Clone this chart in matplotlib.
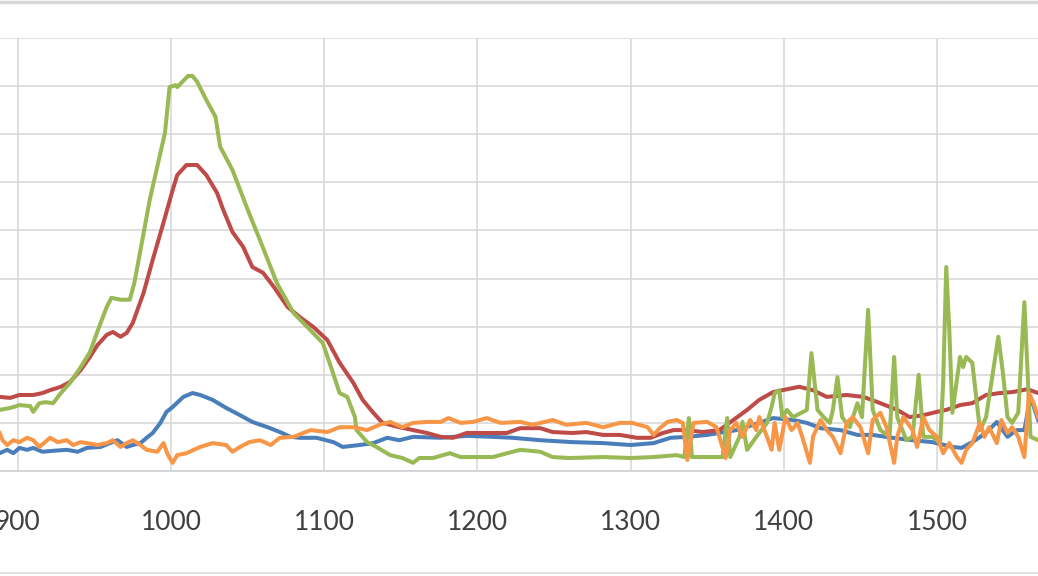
import matplotlib
matplotlib.use('Agg')
import matplotlib.pyplot as plt
from matplotlib.lines import Line2D

######### データ #######################################

#x軸の目盛り
x_ticks = [900, 1000, 1100, 1200, 1300, 1400, 1500]

#青
blue_x = [888, 893, 897, 901, 906, 910, 916, 923, 932, 939, 945, 954, 960, 965, 971, 975, 980, 984, 988, 993,
          997, 1001, 1008, 1014, 1019, 1027, 1036, 1045, 1053, 1063, 1071, 1078, 1084, 1095, 1106, 1112, 1123,
          1132, 1141, 1149, 1158, 1176, 1193, 1210, 1223, 1241, 1262, 1282, 1300, 1315, 1326, 1337, 1350, 1369,
          1380, 1393, 1406, 1415, 1424, 1437, 1448, 1458, 1471, 1484, 1497, 1510, 1516, 1523, 1532, 1539, 1546,
          1552, 1557, 1561, 1566]
blue_y = [0.37, 0.44, 0.37, 0.48, 0.44, 0.48, 0.40, 0.42, 0.44, 0.40, 0.48, 0.50, 0.58, 0.64, 0.50, 0.54, 0.58,
          0.69, 0.79, 1.00, 1.23, 1.33, 1.54, 1.62, 1.58, 1.48, 1.31, 1.16, 1.02, 0.91, 0.81, 0.71, 0.69, 0.69,
          0.60, 0.50, 0.54, 0.58, 0.69, 0.64, 0.71, 0.69, 0.73, 0.71, 0.69, 0.64, 0.60, 0.58, 0.54, 0.58, 0.69,
          0.71, 0.75, 0.85, 0.96, 1.10, 1.06, 1.00, 0.89, 0.85, 0.75, 0.75, 0.69, 0.64, 0.60, 0.50, 0.48, 0.60,
          0.79, 1.02, 0.71, 0.85, 0.85, 1.54, 1.06]

#赤
red_x = [888, 895, 901, 910, 916, 921, 928, 934, 941, 947, 952, 958, 962, 967, 971, 975, 982, 988, 995, 1001,
         1004, 1010, 1017, 1023, 1030, 1034, 1040, 1047, 1053, 1060, 1067, 1076, 1084, 1093, 1102, 1110, 1119,
         1125, 1132, 1138, 1149, 1158, 1167, 1176, 1184, 1193, 1202, 1219, 1228, 1241, 1249, 1262, 1271, 1282,
         1293, 1304, 1313, 1321, 1328, 1337, 1347, 1358, 1367, 1376, 1384, 1393, 1399, 1410, 1419, 1428, 1441,
         1452, 1463, 1474, 1482, 1491, 1500, 1506, 1515, 1523, 1532, 1541, 1549, 1559, 1566]
red_y = [1.54, 1.52, 1.58, 1.58, 1.62, 1.68, 1.75, 1.85, 2.10, 2.37, 2.62, 2.83, 2.89, 2.79, 2.87, 3.08, 3.70,
         4.39, 5.16, 5.84, 6.15, 6.36, 6.36, 6.15, 5.78, 5.43, 4.97, 4.66, 4.24, 4.12, 3.83, 3.41, 3.20, 2.99,
         2.72, 2.25, 1.83, 1.48, 1.21, 1.00, 0.91, 0.85, 0.79, 0.71, 0.69, 0.79, 0.79, 0.79, 0.89, 0.89, 0.81,
         0.79, 0.81, 0.75, 0.75, 0.69, 0.69, 0.79, 0.85, 0.85, 0.81, 0.85, 1.06, 1.27, 1.48, 1.64, 1.68, 1.75,
         1.68, 1.54, 1.58, 1.54, 1.41, 1.27, 1.12, 1.16, 1.23, 1.27, 1.37, 1.41, 1.58, 1.62, 1.64, 1.70, 1.62]

#緑
green_x = [888, 895, 901, 908, 910, 914, 918, 923, 928, 934, 941, 947, 954, 958, 961, 967, 973, 976, 980, 986,
           993, 996, 999, 1003, 1004, 1011, 1014, 1017, 1023, 1029, 1032, 1040, 1050, 1058, 1069, 1080, 1089,
           1099, 1105, 1110, 1115, 1120, 1121, 1128, 1134, 1143, 1151, 1158, 1162, 1171, 1182, 1189, 1200, 1210,
           1223, 1228, 1241, 1249, 1260, 1282, 1300, 1315, 1330, 1335, 1338, 1340, 1360, 1363, 1365, 1371, 1373,
           1376, 1382, 1389, 1392, 1394, 1397, 1399, 1402, 1406, 1415, 1418, 1422, 1426, 1430, 1432, 1435, 1438,
           1443, 1448, 1451, 1455, 1458, 1463, 1469, 1472, 1474, 1480, 1484, 1488, 1491, 1497, 1502, 1504, 1506,
           1508, 1510, 1515, 1517, 1519, 1523, 1526, 1528, 1532, 1536, 1540, 1543, 1546, 1549, 1553, 1557, 1561,
           1566]
green_y = [1.27, 1.31, 1.37, 1.35, 1.23, 1.41, 1.43, 1.41, 1.62, 1.83, 2.16, 2.47, 3.08, 3.41, 3.60, 3.56, 3.56,
           3.91, 4.59, 5.63, 6.61, 7.03, 7.98, 8.02, 7.98, 8.21, 8.21, 8.09, 7.71, 7.36, 6.74, 6.26, 5.43, 4.80,
           3.91, 3.28, 2.99, 2.66, 2.10, 1.62, 1.54, 1.12, 0.85, 0.60, 0.50, 0.33, 0.27, 0.17, 0.27, 0.27, 0.37,
           0.29, 0.29, 0.29, 0.40, 0.44, 0.40, 0.29, 0.27, 0.29, 0.27, 0.29, 0.33, 0.29, 1.10, 0.29, 0.29, 1.10,
           0.29, 0.71, 1.02, 0.44, 0.71, 1.00, 1.33, 1.62, 1.68, 1.12, 1.27, 1.12, 1.27, 2.45, 1.27, 1.12, 1.00,
           1.27, 1.95, 1.12, 0.91, 1.41, 1.12, 3.35, 1.27, 0.85, 0.71, 2.37, 1.12, 0.64, 0.71, 2.00, 0.71, 0.71,
           0.58, 1.83, 4.24, 2.93, 1.21, 2.37, 2.16, 2.37, 2.25, 1.41, 0.85, 1.12, 1.95, 2.79, 2.04, 1.12, 1.00,
           1.21, 3.51, 0.71, 0.64]

#オレンジ
orange_x = [888, 890, 893, 897, 901, 906, 910, 914, 921, 926, 932, 936, 941, 945, 952, 958, 962, 967, 971, 975,
            980, 984, 991, 995, 998, 1001, 1004, 1010, 1019, 1027, 1036, 1040, 1045, 1051, 1058, 1065, 1071,
            1080, 1091, 1102, 1110, 1119, 1128, 1136, 1143, 1151, 1158, 1167, 1176, 1181, 1189, 1197, 1206,
            1215, 1228, 1236, 1249, 1258, 1271, 1282, 1293, 1301, 1311, 1315, 1319, 1324, 1330, 1334, 1337,
            1341, 1350, 1356, 1362, 1365, 1369, 1373, 1378, 1382, 1384, 1389, 1392, 1394, 1397, 1401, 1405,
            1409, 1412, 1417, 1419, 1424, 1428, 1432, 1437, 1441, 1445, 1450, 1455, 1458, 1463, 1467, 1472,
            1474, 1478, 1484, 1487, 1491, 1495, 1500, 1504, 1508, 1513, 1516, 1519, 1523, 1528, 1531, 1534,
            1539, 1542, 1546, 1549, 1553, 1557, 1560, 1563, 1566]
orange_y = [0.79, 0.64, 0.54, 0.64, 0.60, 0.69, 0.64, 0.50, 0.69, 0.60, 0.64, 0.54, 0.60, 0.58, 0.54, 0.58,
            0.64, 0.50, 0.58, 0.64, 0.54, 0.44, 0.40, 0.58, 0.33, 0.17, 0.33, 0.37, 0.50, 0.58, 0.54, 0.40,
            0.50, 0.60, 0.64, 0.54, 0.69, 0.71, 0.85, 0.81, 0.91, 0.91, 0.85, 0.96, 1.02, 0.91, 1.00, 1.02,
            1.02, 1.10, 1.00, 1.02, 1.10, 1.00, 1.02, 0.96, 1.06, 0.96, 1.00, 0.91, 1.00, 1.00, 0.91, 0.75,
            0.89, 1.02, 1.06, 1.00, 0.23, 1.00, 1.02, 0.91, 0.27, 0.85, 1.00, 0.71, 1.06, 0.85, 1.12, 0.71,
            0.44, 1.00, 0.44, 1.12, 0.85, 1.00, 0.71, 0.17, 0.71, 1.06, 0.85, 0.71, 0.37, 1.00, 1.12, 0.91,
            0.37, 1.06, 1.21, 0.91, 0.17, 0.71, 1.12, 0.85, 0.50, 1.12, 0.85, 0.71, 0.37, 0.58, 0.29, 0.17,
            0.44, 0.58, 1.00, 0.71, 0.91, 0.58, 1.06, 0.79, 0.91, 0.71, 0.29, 1.62, 1.41, 1.12]

######### 描画 #######################################

fig = plt.figure(figsize=(10.38, 5.76), dpi=100)
ax = fig.add_axes([0, 105 / 576, 1, 433 / 576])

#Excel 2010 の配色
ax.plot(blue_x, blue_y, color='#4A7EBB', lw=2.9, solid_joinstyle='round')
ax.plot(red_x, red_y, color='#BE4B48', lw=2.9, solid_joinstyle='round')
ax.plot(green_x, green_y, color='#98B954', lw=2.9, solid_joinstyle='round')
ax.plot(orange_x, orange_y, color='#F79646', lw=2.9, solid_joinstyle='round')

#軸の範囲
ax.set_xlim(888.3, 1565.9)
ax.set_ylim(0, 9)

#グリッド
ax.set_xticks(x_ticks)
ax.set_yticks(range(0, 10))
ax.grid(True, color='#D9D9D9', lw=1.2)
ax.set_axisbelow(True)
ax.tick_params(axis='x', length=0, pad=28, labelsize=19, labelcolor='#404040')
ax.tick_params(axis='y', length=0, labelleft=False)
for lab in ax.get_xticklabels():
    lab.set_fontfamily(['Lato', 'DejaVu Sans'])

for s in ['top', 'left', 'right']:
    ax.spines[s].set_visible(False)
ax.spines['bottom'].set_color('#D0D0D0')
ax.spines['bottom'].set_linewidth(1.2)

#上下の枠線
fig.add_artist(Line2D([0, 1], [1 - 1.5 / 576, 1 - 1.5 / 576], color='#D6D6D6', lw=2.5))
fig.add_artist(Line2D([0, 1], [3 / 576, 3 / 576], color='#E0E0E0', lw=1.5))

#保存
fig.savefig('out.png', dpi=100)
